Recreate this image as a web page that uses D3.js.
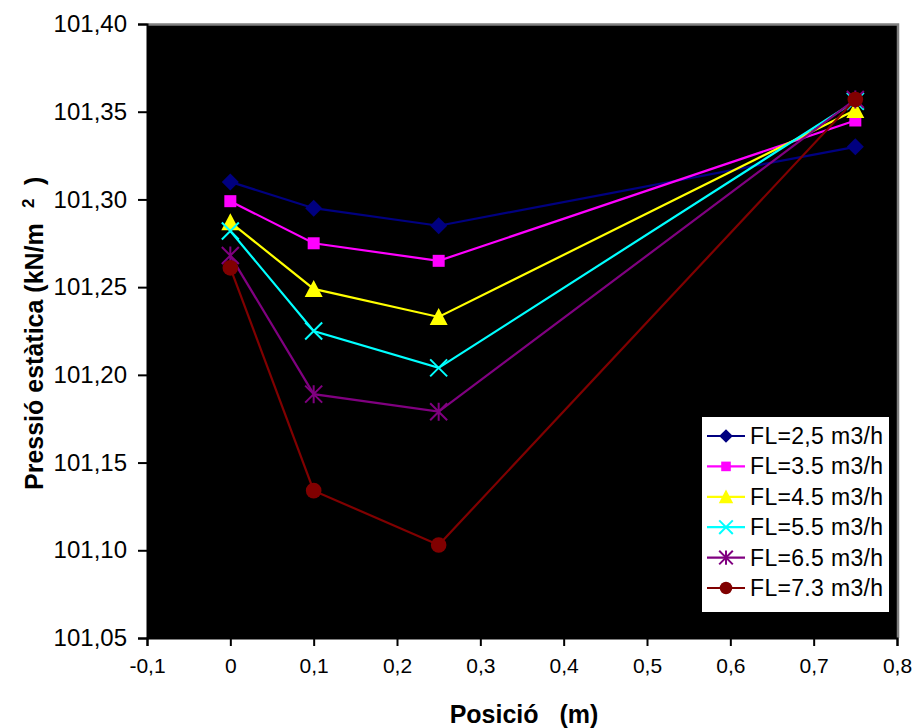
<!DOCTYPE html>
<html>
<head>
<meta charset="utf-8">
<script src="https://cdn.jsdelivr.net/npm/d3@7/dist/d3.min.js"></script>
<style>
  html, body { margin: 0; padding: 0; background: #fff; }
  svg { display: block; font-family: "Liberation Sans", Arial, sans-serif; }
</style>
</head>
<body>
<svg id="chart" width="915" height="728"></svg>
<script>
// Measurement positions (m)
const positions = [0, 0.1, 0.25, 0.75];

// Static pressure (kN/m2) for each flow rate
const fl25 = [101.310, 101.295, 101.285, 101.330];
const fl35 = [101.299, 101.275, 101.265, 101.345];
const fl45 = [101.287, 101.249, 101.233, 101.351];
const fl55 = [101.282, 101.225, 101.204, 101.356];
const fl65 = [101.268, 101.189, 101.179, 101.357];
const fl73 = [101.261, 101.134, 101.103, 101.357];

const seriesNames = ["FL=2,5 m3/h", "FL=3.5 m3/h", "FL=4.5 m3/h", "FL=5.5 m3/h", "FL=6.5 m3/h", "FL=7.3 m3/h"];
const seriesValues = [fl25, fl35, fl45, fl55, fl65, fl73];
const seriesColors = ["#000080", "#ff00ff", "#ffff00", "#00ffff", "#800080", "#800000"];
const seriesMarkers = ["diamond", "square", "triangle", "x", "star", "circle"];

const xTicks = [-0.1, 0, 0.1, 0.2, 0.3, 0.4, 0.5, 0.6, 0.7, 0.8];
const yTicks = [101.05, 101.10, 101.15, 101.20, 101.25, 101.30, 101.35, 101.40];

const svg = d3.select("#chart");
const plot = { left: 147, top: 24, right: 897, bottom: 638 };

const x = d3.scaleLinear().domain([-0.1, 0.8]).range([plot.left, plot.right]);
const y = d3.scaleLinear().domain([101.05, 101.40]).range([plot.bottom, plot.top]);

const comma = v => String(v).replace(".", ",");
const fmtY = v => v.toFixed(2).replace(".", ",");

// plot background
svg.append("rect")
  .attr("x", plot.left).attr("y", plot.top)
  .attr("width", plot.right - plot.left).attr("height", plot.bottom - plot.top)
  .attr("fill", "#000");
// grey frame on top and right
svg.append("path")
  .attr("d", `M${plot.left},${plot.top + 0.5}H${plot.right + 1}V${plot.bottom}`)
  .attr("fill", "none").attr("stroke", "#808080").attr("stroke-width", 2.5);

// axes
const xAxis = d3.axisBottom(x).tickValues(xTicks).tickFormat(comma).tickSize(8).tickPadding(12);
const yAxis = d3.axisLeft(y).tickValues(yTicks).tickFormat(fmtY).tickSize(9).tickPadding(11);

const gx = svg.append("g").attr("transform", `translate(0,${plot.bottom})`).call(xAxis);
const gy = svg.append("g").attr("transform", `translate(${plot.left},0)`).call(yAxis);
[gx, gy].forEach(g => {
  g.select(".domain").attr("stroke", "#000").attr("stroke-width", 2);
  g.selectAll(".tick line").attr("stroke", "#000").attr("stroke-width", 2);
  g.selectAll(".tick text").attr("fill", "#000")
    .style("font-family", "'Liberation Sans', Arial, sans-serif");
});
gx.selectAll(".tick text").style("font-size", "21px");
gy.selectAll(".tick text").style("font-size", "24px");

// axis titles
svg.append("text")
  .attr("x", 524).attr("y", 723)
  .attr("text-anchor", "middle").style("font-size", "25px").attr("font-weight", "bold")
  .attr("xml:space", "preserve")
  .text("Posició   (m)");

const yt = svg.append("text")
  .attr("transform", "translate(43,490) rotate(-90)")
  .style("font-size", "25px").attr("font-weight", "bold");
yt.append("tspan").attr("x", 0).text("Pressió estàtica (kN/m");
yt.append("tspan").attr("x", 282).attr("dy", -9).style("font-size", "17px").text("2");
yt.append("tspan").attr("x", 305).attr("dy", 9).text(")");

// marker drawing
function drawMarker(g, type, color, k = 1) {
  switch (type) {
    case "diamond":
      g.append("path").attr("d", `M0,${-8.5 * k}L${8.5 * k},0L0,${8.5 * k}L${-8.5 * k},0Z`).attr("fill", color);
      break;
    case "square":
      g.append("rect").attr("x", -6 * k).attr("y", -6 * k).attr("width", 12 * k).attr("height", 12 * k).attr("fill", color);
      break;
    case "triangle":
      g.append("path").attr("d", `M0,${-9 * k}L${9 * k},${8 * k}H${-9 * k}Z`).attr("fill", color);
      break;
    case "x":
      g.append("path").attr("d", `M${-8.5 * k},${-8.5 * k}L${8.5 * k},${8.5 * k}M${-8.5 * k},${8.5 * k}L${8.5 * k},${-8.5 * k}`)
        .attr("stroke", color).attr("stroke-width", 2).attr("fill", "none");
      break;
    case "star":
      g.append("path").attr("d", `M${-8.5 * k},${-8.5 * k}L${8.5 * k},${8.5 * k}M${-8.5 * k},${8.5 * k}L${8.5 * k},${-8.5 * k}M0,${-9 * k}V${9 * k}`)
        .attr("stroke", color).attr("stroke-width", 2).attr("fill", "none");
      break;
    case "circle":
      g.append("circle").attr("r", 7.8 * k).attr("fill", color);
      break;
  }
}

const line = d3.line().x(d => x(d[0])).y(d => y(d[1]));

seriesValues.forEach((vals, i) => {
  const pts = positions.map((p, j) => [p, vals[j]]);
  const g = svg.append("g");
  g.append("path").datum(pts).attr("d", line)
    .attr("fill", "none").attr("stroke", seriesColors[i]).attr("stroke-width", 2.2);
  pts.forEach(pt => {
    const m = g.append("g").attr("transform", `translate(${x(pt[0])},${y(pt[1])})`);
    drawMarker(m, seriesMarkers[i], seriesColors[i]);
  });
});

// legend
const legend = svg.append("g").attr("transform", "translate(702,417)");
legend.append("rect").attr("width", 187).attr("height", 195).attr("fill", "#fff");
seriesNames.forEach((name, i) => {
  const row = legend.append("g").attr("transform", `translate(0,${19 + i * 30.4})`);
  row.append("line").attr("x1", 5).attr("x2", 43).attr("stroke", seriesColors[i]).attr("stroke-width", 2.2);
  const m = row.append("g").attr("transform", "translate(24,0)");
  drawMarker(m, seriesMarkers[i], seriesColors[i], 0.8);
  row.append("text").attr("x", 48).attr("y", 8).style("font-size", "23px")
    .attr("textLength", 133).attr("lengthAdjust", "spacing")
    .attr("fill", "#000").text(name);
});
</script>
</body>
</html>
